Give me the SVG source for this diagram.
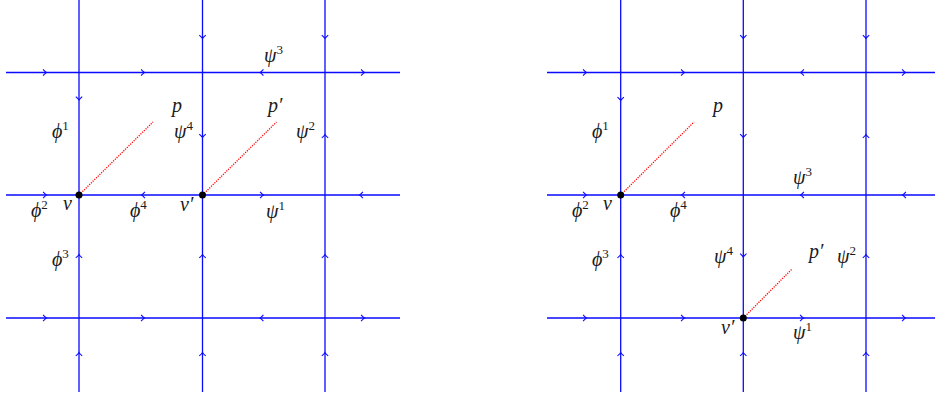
<svg xmlns="http://www.w3.org/2000/svg" xmlns:xlink="http://www.w3.org/1999/xlink" width="935" height="400" viewBox="0 0 935 400">
<style>
.ln{stroke:#0a0aff;stroke-width:1.3;fill:none}
.ah{stroke:#0a0aff;stroke-width:1.1;fill:none}
.rd{stroke:#ff0000;stroke-width:1.3;stroke-dasharray:1.2 1.2;fill:none}
.dot{fill:#000}
.lb{font-family:"Liberation Serif","DejaVu Serif",serif;font-style:italic;font-size:20px;fill:#1a1a1a}
.sp{font-size:13px;font-style:normal}
</style>
<defs>
<path id="a" d="M-3.4,-3.2 Q-1.2,-0.7 0,0 Q-1.2,0.7 -3.4,3.2"/>
</defs>

<g id="left-panel">
<g id="connectors-left">
<line class="ln" x1="6" y1="72.5" x2="400" y2="72.5"/>
<line class="ln" x1="6" y1="195" x2="400" y2="195"/>
<line class="ln" x1="6" y1="318" x2="400" y2="318"/>
<line class="ln" x1="79" y1="0" x2="79" y2="392"/>
<line class="ln" x1="202.5" y1="0" x2="202.5" y2="392"/>
<line class="ln" x1="325" y1="0" x2="325" y2="392"/>
<g class="ah">
<use xlink:href="#a" transform="translate(46.5,72.5)"/>
<use xlink:href="#a" transform="translate(144.5,72.5)"/>
<use xlink:href="#a" transform="translate(260,72.5) rotate(180)"/>
<use xlink:href="#a" transform="translate(364.5,72.5)"/>
<use xlink:href="#a" transform="translate(46.5,195)"/>
<use xlink:href="#a" transform="translate(141.5,195) rotate(180)"/>
<use xlink:href="#a" transform="translate(263.5,195)"/>
<use xlink:href="#a" transform="translate(359.5,195) rotate(180)"/>
<use xlink:href="#a" transform="translate(46.5,318)"/>
<use xlink:href="#a" transform="translate(144.5,318)"/>
<use xlink:href="#a" transform="translate(260,318) rotate(180)"/>
<use xlink:href="#a" transform="translate(364.5,318)"/>
<use xlink:href="#a" transform="translate(79,100) rotate(90)"/>
<use xlink:href="#a" transform="translate(79,254.5) rotate(-90)"/>
<use xlink:href="#a" transform="translate(79,352.5) rotate(-90)"/>
<use xlink:href="#a" transform="translate(202.5,38.5) rotate(90)"/>
<use xlink:href="#a" transform="translate(202.5,137.5) rotate(90)"/>
<use xlink:href="#a" transform="translate(202.5,254.5) rotate(-90)"/>
<use xlink:href="#a" transform="translate(202.5,352.5) rotate(-90)"/>
<use xlink:href="#a" transform="translate(325,38.5) rotate(90)"/>
<use xlink:href="#a" transform="translate(325,134.5) rotate(-90)"/>
<use xlink:href="#a" transform="translate(325,254.5) rotate(-90)"/>
<use xlink:href="#a" transform="translate(325,352.5) rotate(-90)"/>
</g>
<line class="rd" x1="79" y1="195" x2="153" y2="122"/>
<line class="rd" x1="202.5" y1="195" x2="276.5" y2="122"/>
</g>
<g id="node-v-left"><circle class="dot" cx="79" cy="195" r="3.5"/><text class="lb" x="63" y="210">v</text></g>
<g id="node-vp-left"><circle class="dot" cx="202.5" cy="195" r="3.5"/><text class="lb" x="180" y="211">v′</text></g>
<g id="labels-left">
<text class="lb" x="52" y="138">ϕ<tspan class="sp" dy="-8.5">1</tspan></text>
<text class="lb" x="172" y="112">p</text>
<text class="lb" x="174" y="138">ψ<tspan class="sp" dy="-8.5">4</tspan></text>
<text class="lb" x="268" y="112">p′</text>
<text class="lb" x="296" y="138">ψ<tspan class="sp" dy="-8.5">2</tspan></text>
<text class="lb" x="264" y="62">ψ<tspan class="sp" dy="-8.5">3</tspan></text>
<text class="lb" x="31" y="217">ϕ<tspan class="sp" dy="-8.5">2</tspan></text>
<text class="lb" x="130" y="217">ϕ<tspan class="sp" dy="-8.5">4</tspan></text>
<text class="lb" x="266" y="218">ψ<tspan class="sp" dy="-8.5">1</tspan></text>
<text class="lb" x="52" y="266">ϕ<tspan class="sp" dy="-8.5">3</tspan></text>
</g>
</g>

<g id="right-panel">
<g id="connectors-right">
<line class="ln" x1="547" y1="72.5" x2="935" y2="72.5"/>
<line class="ln" x1="547" y1="195" x2="935" y2="195"/>
<line class="ln" x1="547" y1="318" x2="935" y2="318"/>
<line class="ln" x1="620.7" y1="0" x2="620.7" y2="392"/>
<line class="ln" x1="743.3" y1="0" x2="743.3" y2="392"/>
<line class="ln" x1="866" y1="0" x2="866" y2="392"/>
<g class="ah">
<use xlink:href="#a" transform="translate(586.5,72.5)"/>
<use xlink:href="#a" transform="translate(684.5,72.5)"/>
<use xlink:href="#a" transform="translate(800.5,72.5) rotate(180)"/>
<use xlink:href="#a" transform="translate(905.5,72.5)"/>
<use xlink:href="#a" transform="translate(586.5,195)"/>
<use xlink:href="#a" transform="translate(681.5,195) rotate(180)"/>
<use xlink:href="#a" transform="translate(800.5,195) rotate(180)"/>
<use xlink:href="#a" transform="translate(902.5,195) rotate(180)"/>
<use xlink:href="#a" transform="translate(586.5,318)"/>
<use xlink:href="#a" transform="translate(684.5,318)"/>
<use xlink:href="#a" transform="translate(803.5,318)"/>
<use xlink:href="#a" transform="translate(905.5,318)"/>
<use xlink:href="#a" transform="translate(620.7,100.5) rotate(90)"/>
<use xlink:href="#a" transform="translate(620.7,254.5) rotate(-90)"/>
<use xlink:href="#a" transform="translate(620.7,352.5) rotate(-90)"/>
<use xlink:href="#a" transform="translate(743.3,38.5) rotate(90)"/>
<use xlink:href="#a" transform="translate(743.3,137.5) rotate(90)"/>
<use xlink:href="#a" transform="translate(743.3,257) rotate(90)"/>
<use xlink:href="#a" transform="translate(743.3,352.5) rotate(-90)"/>
<use xlink:href="#a" transform="translate(866,38.5) rotate(90)"/>
<use xlink:href="#a" transform="translate(866,134.5) rotate(-90)"/>
<use xlink:href="#a" transform="translate(866,254.5) rotate(-90)"/>
<use xlink:href="#a" transform="translate(866,352.5) rotate(-90)"/>
</g>
<line class="rd" x1="620.7" y1="195" x2="694" y2="122"/>
<line class="rd" x1="743.3" y1="318" x2="792" y2="269"/>
</g>
<g id="node-v-right"><circle class="dot" cx="620.7" cy="195" r="3.5"/><text class="lb" x="603" y="210">v</text></g>
<g id="node-vp-right"><circle class="dot" cx="743.3" cy="318" r="3.5"/><text class="lb" x="721" y="334">v′</text></g>
<g id="labels-right">
<text class="lb" x="592" y="138">ϕ<tspan class="sp" dy="-8.5">1</tspan></text>
<text class="lb" x="713" y="112">p</text>
<text class="lb" x="793" y="184">ψ<tspan class="sp" dy="-8.5">3</tspan></text>
<text class="lb" x="572" y="217">ϕ<tspan class="sp" dy="-8.5">2</tspan></text>
<text class="lb" x="670" y="217">ϕ<tspan class="sp" dy="-8.5">4</tspan></text>
<text class="lb" x="592" y="266">ϕ<tspan class="sp" dy="-8.5">3</tspan></text>
<text class="lb" x="714" y="263">ψ<tspan class="sp" dy="-8.5">4</tspan></text>
<text class="lb" x="809" y="258">p′</text>
<text class="lb" x="837" y="263">ψ<tspan class="sp" dy="-8.5">2</tspan></text>
<text class="lb" x="793" y="339">ψ<tspan class="sp" dy="-8.5">1</tspan></text>
</g>
</g>
</svg>
